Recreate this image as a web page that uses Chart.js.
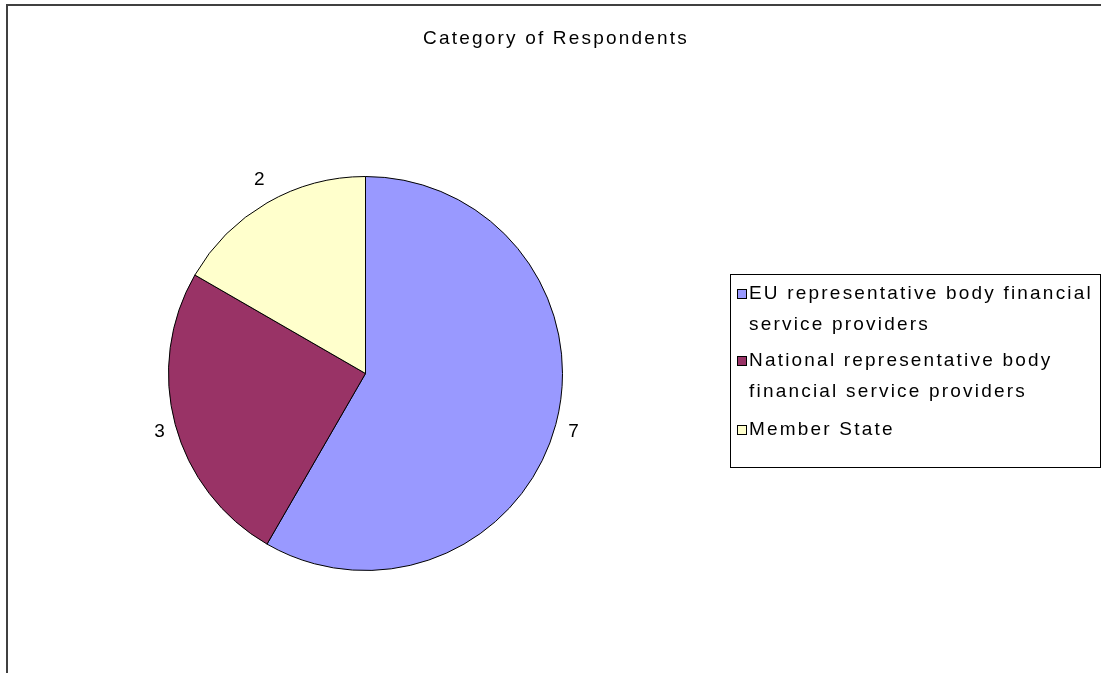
<!DOCTYPE html>
<html>
<head>
<meta charset="utf-8">
<script src="https://cdn.jsdelivr.net/npm/chart.js@4.4.1/dist/chart.umd.min.js"></script>
<style>
  html, body { margin: 0; padding: 0; background: #fff; }
  #wrap { position: relative; width: 1101px; height: 673px; }
  canvas { display: block; }
</style>
</head>
<body>
<div id="wrap"><canvas id="c" width="1101" height="673"></canvas></div>
<script>
const chartTitle = "Category of Respondents";
const categories = [
  ["EU representative body financial", "service providers"],
  ["National representative body", "financial service providers"],
  ["Member State"]
];
const values = [7, 3, 2];
const sliceColors = ["#9999FF", "#993366", "#FFFFCC"];

const FONT = '"Liberation Sans", Arial, sans-serif';

const framePlugin = {
  id: 'frame',
  beforeDraw(chart) {
    const ctx = chart.ctx;
    ctx.save();
    ctx.fillStyle = '#ffffff';
    ctx.fillRect(0, 0, chart.width, chart.height);
    ctx.strokeStyle = '#404040';
    ctx.lineWidth = 2;
    ctx.beginPath();
    ctx.moveTo(7, chart.height + 2);
    ctx.lineTo(7, 5);
    ctx.lineTo(chart.width + 2, 5);
    ctx.stroke();
    // title
    ctx.fillStyle = '#000';
    ctx.font = '19px ' + FONT;
    ctx.letterSpacing = '2.2px';
    ctx.textAlign = 'center';
    ctx.textBaseline = 'middle';
    ctx.fillText(chartTitle, 556, 39);
    ctx.restore();
  }
};

const labelPlugin = {
  id: 'pieLabels',
  afterDatasetsDraw(chart) {
    const ctx = chart.ctx;
    const meta = chart.getDatasetMeta(0);
    ctx.save();
    ctx.font = '19px ' + FONT;
    ctx.fillStyle = '#000';
    ctx.textAlign = 'center';
    ctx.textBaseline = 'middle';
    meta.data.forEach((arc, i) => {
      const p = arc.getProps(['x', 'y', 'startAngle', 'endAngle', 'outerRadius'], true);
      const mid = (p.startAngle + p.endAngle) / 2;
      const ux = Math.cos(mid), uy = Math.sin(mid);
      const txt = String(chart.data.datasets[0].data[i]);
      const w = ctx.measureText(txt).width;
      const h = 30;
      const r = p.outerRadius + 12;
      const cx = p.x + r * ux + (w / 2) * ux + 1;
      const cy = p.y + r * uy + (h / 2) * uy;
      ctx.fillText(txt, cx, cy);
    });
    ctx.restore();
  }
};

const legendPlugin = {
  id: 'boxLegend',
  afterDraw(chart) {
    const ctx = chart.ctx;
    ctx.save();
    const bx = 730.5, by = 274.5, bw = 370, bh = 193;
    ctx.strokeStyle = '#000';
    ctx.lineWidth = 1;
    ctx.strokeRect(bx, by, bw, bh);
    ctx.font = '19px ' + FONT;
    ctx.letterSpacing = '2.2px';
    ctx.textAlign = 'left';
    ctx.textBaseline = 'middle';
    const itemTops = [294, 361, 430];
    const lineGap = 31;
    chart.data.labels.forEach((lab, i) => {
      const y0 = itemTops[i];
      ctx.fillStyle = chart.data.datasets[0].backgroundColor[i];
      ctx.fillRect(737, y0 - 5, 10, 10);
      ctx.strokeStyle = '#000';
      ctx.strokeRect(737.5, y0 - 4.5, 9, 9);
      ctx.fillStyle = '#000';
      const lines = Array.isArray(lab) ? lab : [lab];
      lines.forEach((ln, j) => {
        ctx.fillText(ln, 749, y0 + j * lineGap);
      });
    });
    ctx.restore();
  }
};

new Chart(document.getElementById('c'), {
  type: 'pie',
  data: {
    labels: categories,
    datasets: [{
      data: values,
      backgroundColor: sliceColors,
      borderColor: '#000000',
      borderWidth: 1,
      hoverOffset: 0
    }]
  },
  options: {
    responsive: false,
    animation: false,
    events: [],
    layout: { padding: { left: 168, right: 538, top: 176, bottom: 102 } },
    plugins: {
      legend: { display: false },
      title: { display: false },
      tooltip: { enabled: false }
    }
  },
  plugins: [framePlugin, labelPlugin, legendPlugin]
});
</script>
</body>
</html>
